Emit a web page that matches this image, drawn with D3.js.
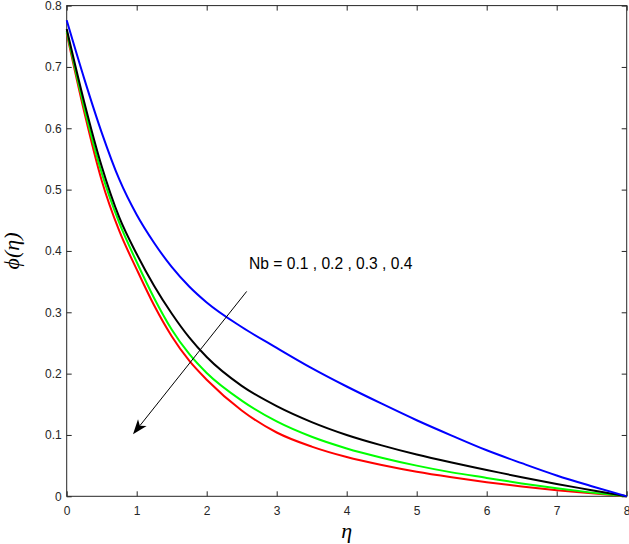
<!DOCTYPE html>
<html>
<head>
<meta charset="utf-8">
<script src="https://cdn.jsdelivr.net/npm/d3@7"></script>
<style>
  body { margin: 0; background: #fff; }
  svg text { font-family: "Liberation Sans", Arial, sans-serif; }
</style>
</head>
<body>
<script>
var eta = [0, 0.25, 0.5, 0.75, 1, 1.25, 1.5, 1.75, 2, 2.5, 3, 3.5, 4, 4.5, 5, 5.5, 6, 6.5, 7, 7.5, 8];

// Nb = 0.1 (blue)
var phiNb1 = [0.776, 0.681, 0.593, 0.517, 0.459, 0.413, 0.374, 0.342, 0.316, 0.276, 0.242, 0.209, 0.179, 0.151, 0.124, 0.099, 0.075, 0.054, 0.034, 0.0165, 0];
// Nb = 0.2 (black)
var phiNb2 = [0.762, 0.643, 0.538, 0.455, 0.395, 0.343, 0.298, 0.259, 0.227, 0.180, 0.147, 0.121, 0.100, 0.083, 0.068, 0.055, 0.043, 0.031, 0.020, 0.010, 0];
// Nb = 0.3 (green)
var phiNb3 = [0.758, 0.634, 0.527, 0.446, 0.382, 0.323, 0.272, 0.232, 0.201, 0.156, 0.122, 0.097, 0.078, 0.063, 0.050, 0.039, 0.030, 0.021, 0.013, 0.006, 0];
// Nb = 0.4 (red)
var phiNb4 = [0.755, 0.627, 0.515, 0.433, 0.370, 0.311, 0.261, 0.221, 0.190, 0.140, 0.104, 0.081, 0.064, 0.051, 0.040, 0.031, 0.023, 0.016, 0.010, 0.005, 0];

var xTicks = [0, 1, 2, 3, 4, 5, 6, 7, 8];
var yTicks = [0, 0.1, 0.2, 0.3, 0.4, 0.5, 0.6, 0.7, 0.8];

// arrow from [eta, phi] to [eta, phi]
var arrowFrom = [2.571, 0.334];
var arrowTo = [0.947, 0.101];
var noteText = "Nb = 0.1 , 0.2 , 0.3 , 0.4";

function main() {
  var w = 629, h = 544;
  var left = 66.7, right = 626.7, top = 5.6, bottom = 496.3;

  var svg = d3.select("body").append("svg")
    .attr("width", w)
    .attr("height", h);

  var x = d3.scaleLinear().domain([0, 8]).range([left, right]);
  var y = d3.scaleLinear().domain([0, 0.8]).range([bottom, top]);

  drawAxes(svg, x, y);

  var series = [
    { values: phiNb1, color: "#0000ff" },
    { values: phiNb2, color: "#000000" },
    { values: phiNb3, color: "#00ff00" },
    { values: phiNb4, color: "#ff0000" }
  ];

  var line = d3.line()
    .x(function(d) { return x(d[0]); })
    .y(function(d) { return y(d[1]); })
    .curve(d3.curveMonotoneX);

  for (var i = series.length - 1; i >= 0; i--) {
    var pts = eta.map(function(e, j) { return [e, series[i].values[j]]; });
    svg.append("path")
      .attr("d", line(pts))
      .attr("fill", "none")
      .attr("stroke", series[i].color)
      .attr("stroke-width", 2);
  }

  drawArrow(svg, x, y);

  svg.append("text")
    .attr("x", 249)
    .attr("y", 269)
    .attr("font-size", 15.6)
    .attr("fill", "#000")
    .text(noteText);

  svg.append("text")
    .attr("x", (left + right) / 2)
    .attr("y", 538)
    .attr("text-anchor", "middle")
    .attr("font-size", 22)
    .style("font-family", "'Liberation Serif', 'Times New Roman', serif")
    .style("font-style", "italic")
    .text("η");

  svg.append("text")
    .attr("transform", "translate(19,251) rotate(-90)")
    .attr("text-anchor", "middle")
    .attr("font-size", 22)
    .style("font-family", "'Liberation Serif', 'Times New Roman', serif")
    .style("font-style", "italic")
    .text("ϕ(η)");
}

function drawAxes(svg, x, y) {
  var col = "#262626";
  var tl = 5;
  var x0 = x.range()[0], x1 = x.range()[1];
  var y0 = y.range()[0], y1 = y.range()[1];

  var bottomAxis = d3.axisBottom(x).tickValues(xTicks).tickSize(-tl).tickPadding(10).tickFormat(d3.format("d"));
  var topAxis = d3.axisTop(x).tickValues(xTicks).tickSize(-tl).tickFormat("");
  var leftAxis = d3.axisLeft(y).tickValues(yTicks).tickSize(-tl).tickPadding(5).tickFormat(function(d) { return d === 0 ? "0" : d3.format(".1f")(d); });
  var rightAxis = d3.axisRight(y).tickValues(yTicks).tickSize(-tl).tickFormat("");

  var axes = [
    svg.append("g").attr("transform", "translate(0," + y0 + ")").call(bottomAxis),
    svg.append("g").attr("transform", "translate(0," + y1 + ")").call(topAxis),
    svg.append("g").attr("transform", "translate(" + x0 + ",0)").call(leftAxis),
    svg.append("g").attr("transform", "translate(" + x1 + ",0)").call(rightAxis)
  ];
  axes.forEach(function(g) {
    g.select(".domain").remove();
    g.selectAll("line").attr("stroke", col);
    g.selectAll("text")
      .attr("fill", col)
      .attr("font-size", 12)
      .style("font-family", "'Liberation Sans', Arial, sans-serif");
  });

  svg.append("rect")
    .attr("x", x0)
    .attr("y", y1)
    .attr("width", x1 - x0)
    .attr("height", y0 - y1)
    .attr("fill", "none")
    .attr("stroke", col)
    .attr("stroke-width", 1);
}

function drawArrow(svg, x, y) {
  var sx = x(arrowFrom[0]), sy = y(arrowFrom[1]);
  var ex = x(arrowTo[0]), ey = y(arrowTo[1]);
  var ang = Math.atan2(ey - sy, ex - sx);
  var len = 15, half = 5.5, back = 11;

  svg.append("line")
    .attr("x1", sx).attr("y1", sy)
    .attr("x2", ex - Math.cos(ang) * back)
    .attr("y2", ey - Math.sin(ang) * back)
    .attr("stroke", "#000")
    .attr("stroke-width", 1);

  var ca = Math.cos(ang), sa = Math.sin(ang);
  function pt(a, b) {
    // a along the shaft backwards, b sideways
    return [ex - ca * a - sa * b, ey - sa * a + ca * b];
  }
  var head = [pt(0, 0), pt(len, half), pt(back, 0), pt(len, -half)];
  svg.append("path")
    .attr("d", "M" + head.map(function(p) { return p.join(","); }).join("L") + "Z")
    .attr("fill", "#000");
}

main();
</script>
</body>
</html>
